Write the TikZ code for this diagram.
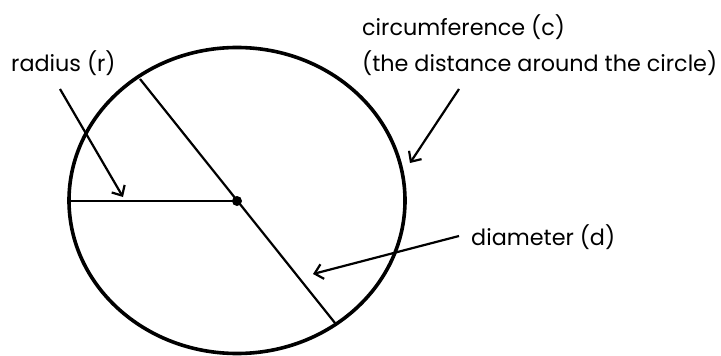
\documentclass[tikz,border=0pt]{standalone}
\usepackage{fontspec}
\setmainfont{Poppins}
\usetikzlibrary{arrows.meta}
\begin{document}
\begin{tikzpicture}[x=1pt,y=-1pt,
  lbl/.style={inner sep=0pt, font=\fontsize{22.3}{26}\selectfont, anchor=west},
  thin line/.style={line width=2.2pt},
  pointer/.style={line width=2.2pt, -{Straight Barb[length=8pt,width=15pt,line width=2.2pt]}}]
\useasboundingbox (0,0) rectangle (721,356);
\draw[line width=3.6pt] (237,200.5) ellipse [x radius=168, y radius=153];
\coordinate (o) at (237,201);
\coordinate (dtop) at (140,79);
\coordinate (dbot) at (335,323);
\coordinate (rl) at (68,201);
\draw[thin line] (dtop) -- (dbot);
\draw[thin line] (rl) -- (o);
\fill (o) circle (5);
\node[lbl] (rad) at (11,63) {radius (r)};
\node[lbl] (circ) at (362,27) {circumference (c)};
\node[lbl] (dist) at (362,63) {(the distance around the circle)};
\node[lbl] (diam) at (471,237) {diameter (d)};
\coordinate (ra) at (60,89);
\coordinate (rt) at (123,197);
\coordinate (ca) at (459,89);
\coordinate (ct) at (410,163);
\coordinate (da) at (459,236);
\coordinate (dt) at (313,274);
\draw[pointer] (ra) -- (rt);
\draw[pointer] (ca) -- (ct);
\draw[pointer] (da) -- (dt);
\end{tikzpicture}
\end{document}
